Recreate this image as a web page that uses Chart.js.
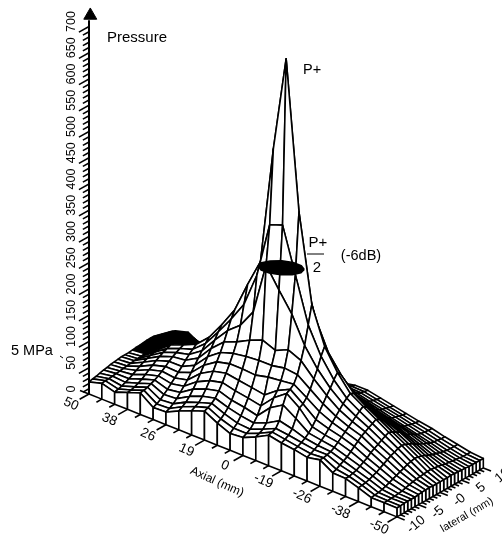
<!DOCTYPE html>
<html><head><meta charset="utf-8"><style>html,body{margin:0;padding:0;background:#fff}canvas{display:block}</style>
<script src="https://cdn.jsdelivr.net/npm/chart.js@4"></script></head>
<body><canvas id="c" width="502" height="540"></canvas>
<script>
const axialLabels=['50','38','26','19','0','-19','-26','-38','-50'];
const lateralLabels=['-10','-5','-0','5','10'];
const pressureLabels=[0,50,100,150,200,250,300,350,400,450,500,550,600,650,700];
const a00=[23,25,26,28,30,31,33,34,35,36,36,36,37,38,38,39,40,40,40,38,36,34,32,30,27];
const a01=[30,31,31,32,33,34,35,36,37,38,38,39,40,42,44,46,47,48,48,46,44,42,40,37,34];
const a02=[23,25,27,30,33,37,41,45,49,52,54,56,57,58,58,58,57,56,55,54,54,48,40,30,20];
const a03=[32,33,35,38,42,47,52,57,62,66,70,73,76,76,74,72,68,62,56,50,44,38,32,28,25];
const a04=[41,42,44,47,50,54,59,64,70,75,79,83,86,84,80,75,68,60,52,45,38,33,29,26,25];
const a05=[23,26,30,36,42,49,56,63,70,78,85,91,97,92,85,76,66,58,50,43,37,32,28,26,25];
const a06=[24,27,32,38,46,54,62,72,82,92,102,112,120,112,100,86,74,62,52,44,38,33,30,28,28];
const a07=[36,40,45,52,62,72,84,96,108,120,132,144,154,140,122,104,86,72,60,50,42,36,33,31,30];
const a08=[46,50,54,62,72,84,98,112,126,142,160,178,192,175,150,125,102,84,68,56,48,42,38,36,35];
const a09=[55,58,62,68,78,90,104,118,134,152,180,216,250,225,185,150,120,96,78,64,54,48,44,42,40];
const a10=[42,46,52,60,70,84,100,118,138,165,215,281,303,290,220,170,130,105,85,70,60,54,50,47,45];
const a11=[32,38,44,54,66,80,96,116,140,175,314,387,527,400,280,190,140,110,90,76,66,60,55,52,50];
const a12=[34,38,42,50,60,75,92,122,140,165,276,396,709,420,290,190,150,120,100,85,75,65,60,57,55];
const a13=[45,48,52,60,85,100,110,125,145,176,240,311,427,320,230,170,135,110,92,80,70,64,60,57,55];
const a14=[58,60,63,74,100,118,122,128,142,165,190,225,260,230,190,155,125,105,90,80,72,67,64,62,60];
const a15=[53,56,60,68,84,100,104,112,124,140,155,175,190,175,150,130,110,95,85,76,70,66,63,61,60];
const a16=[50,52,56,60,66,74,84,95,106,118,128,140,150,142,128,112,98,86,76,70,64,60,58,56,55];
const a17=[45,48,52,56,62,68,76,84,92,100,108,115,120,116,106,96,84,76,68,62,58,55,53,51,50];
const a18=[50,50,52,54,58,64,70,76,82,88,94,100,105,100,92,84,76,68,62,56,52,50,48,46,45];
const a19=[35,38,42,46,50,56,62,68,74,78,82,86,90,86,80,74,68,62,56,50,46,44,42,41,40];
const a20=[34,34,36,38,42,46,50,56,60,64,68,72,75,72,68,64,58,52,48,44,40,38,37,36,36];
const a21=[26,27,28,30,33,36,40,44,48,52,55,58,60,58,55,52,47,43,40,37,34,32,31,30,30];
const a22=[17,18,19,21,23,26,29,32,35,38,41,43,45,44,42,39,36,33,31,29,27,26,25,25,25];
const a23=[17,17,18,18,19,20,22,24,26,27,28,29,30,30,29,28,27,25,24,23,22,21,20,20,20];
const a24=[17,17,18,18,18,18,19,20,20,21,20,20,20,20,20,21,20,20,19,19,18,18,18,18,18];
const surface=[a00,a01,a02,a03,a04,a05,a06,a07,a08,a09,a10,a11,a12,a13,a14,a15,a16,a17,a18,a19,a20,a21,a22,a23,a24];
const halfAxial=[12.88,13.0,12.76,12.24,11.58,10.95,10.52,10.4,10.64,11.16,11.82,12.45];
const halfLateral=[13.87,12.55,10.99,9.63,8.82,8.79,9.53,10.85,12.41,13.77,14.58,14.61];
const halfLevel=309;
const N=surface.length-1;
const LX=0.2806,KA=9.752,KL=3.886;
const P=(a,l,p)=>({x:a+l*LX,y:p+l*KL-a*KA});
const isBlack=(i,j)=>!(i==2&&j==22)&&((i<=2&&j>=12)||(i==3&&j>=13)||(i==4&&j>=17));
const ds=[];
const line=(data,o={})=>ds.push(Object.assign({data,showLine:true,pointRadius:0,borderColor:'#000',borderWidth:1.6,tension:0,fill:false},o));
const poly=(data,color)=>line(data.concat([data[0]]),{fill:'shape',backgroundColor:color,borderJoinStyle:'round'});
const paint=[];
for(let j=N-1;j>=0;j--)for(let i=0;i<N;i++){
  paint.push([[P(i,j,surface[i][j]),P(i+1,j,surface[i+1][j]),P(i+1,j+1,surface[i+1][j+1]),P(i,j+1,surface[i][j+1])],isBlack(i,j)?'#000':'#fff']);
}
for(let j=N-1;j>=0;j--)paint.push([[P(N,j,surface[N][j]),P(N,j+1,surface[N][j+1]),P(N,j+1,0),P(N,j,0)],'#fff']);
for(let i=0;i<N;i++)paint.push([[P(i,0,surface[i][0]),P(i+1,0,surface[i+1][0]),P(i+1,0,0),P(i,0,0)],'#fff']);
poly(halfAxial.map((a,k)=>P(a,halfLateral[k],halfLevel)),'#000');
line([P(0,0,0),P(0,0,712)],{borderWidth:2});
ds.push({data:[P(0.1,0,722)],pointStyle:'triangle',pointRadius:7.5,pointBackgroundColor:'#000',pointBorderColor:'#000',showLine:false});
for(let p=10;p<=700;p+=10){const major=p%50==0;line([P(0,0,p),P(0,major?-2.8:-1.7,p)],{borderWidth:1.5});}
line([P(0,0,0),P(-0.7,0,0)]);
for(let i=0;i<=N;i++){line([P(i,0,0),P(i,i%3==0?-2.6:-1.5,0)]);}
for(let j=0;j<=N;j++){line([P(N,j,0),P(N+(j%6==0?0.6:0.35),j,0)]);}
for(let k=paint.length-1;k>=0;k--)poly(paint[k][0],paint[k][1]);

const textPlugin={id:'labels',afterDatasetsDraw(chart){
  const {ctx,scales:{x,y}}=chart;
  const T=(s,px,py,ang,size,align='center')=>{ctx.save();ctx.translate(px,py);ctx.rotate(ang*Math.PI/180);ctx.font=size+'px "Liberation Sans", Arial, sans-serif';ctx.fillStyle='#000';ctx.textAlign=align;ctx.textBaseline='middle';ctx.fillText(s,0,0);ctx.restore();};
  const sx=v=>x.getPixelForValue(v),sy=v=>y.getPixelForValue(v);
  pressureLabels.forEach(p=>T(String(p),sx(0)-17,sy(p)-5,-90,12.5));
  axialLabels.forEach((s,k)=>{const q=P(k*3,-5,0);T(s,sx(q.x),sy(q.y),24,13.5);});
  lateralLabels.forEach((s,k)=>{const q=P(N+1.5,k*6,0);T(s,sx(q.x),sy(q.y),-40,13.5);});
  T('Axial (mm)',217,482,24,12);
  T('lateral (mm)',467,515,-30,11);
  T('Pressure',107,38,0,15,'left');
  T('P+',303,70,0,14.5,'left');
  T('P+',318,243,0,15);T('2',317,268,0,15);T('(-6dB)',361,256,0,14.5);
  T('5 MPa',11,351,0,14.5,'left');
  ctx.save();ctx.strokeStyle='#000';ctx.lineWidth=1;ctx.beginPath();ctx.moveTo(307,254);ctx.lineTo(324,254);ctx.moveTo(60,356);ctx.lineTo(63,358);ctx.stroke();ctx.restore();
}};
new Chart(document.getElementById('c'),{type:'scatter',data:{datasets:ds},plugins:[textPlugin],options:{
  responsive:false,animation:false,events:[],
  layout:{padding:0,autoPadding:false},
  plugins:{legend:{display:false},tooltip:{enabled:false},filler:{drawTime:'beforeDatasetDraw',propagate:false}},
  scales:{
    x:{type:'linear',display:false,min:-89/12.83,max:(502-89)/12.83},
    y:{type:'linear',display:false,min:(394-540)/0.525,max:394/0.525}
  }
}});
</script></body></html>
